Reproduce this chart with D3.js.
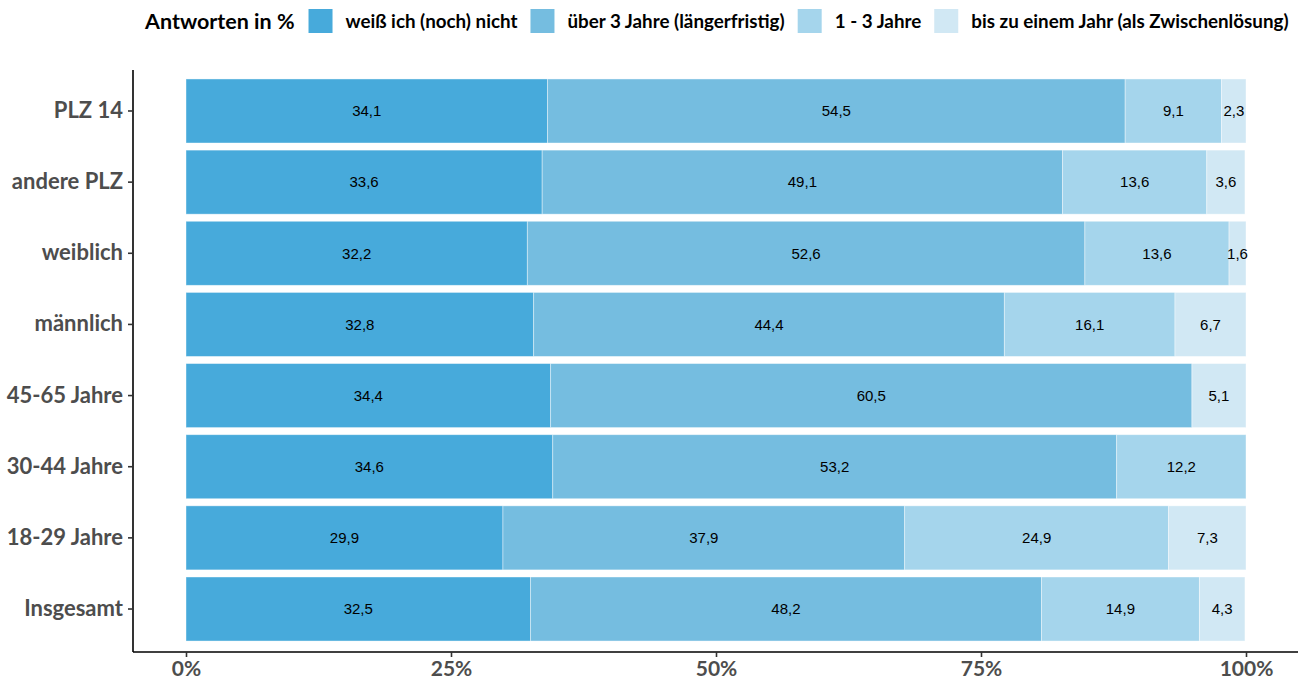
<!DOCTYPE html>
<html>
<head>
<meta charset="utf-8">
<script src="https://cdn.jsdelivr.net/npm/d3@7"></script>
<style>
  body { margin: 0; background: #fff; }
  svg { display: block; }
</style>
</head>
<body>
<div id="chart"></div>
<script>
// categories top to bottom
var groups = ["PLZ 14", "andere PLZ", "weiblich", "männlich", "45-65 Jahre", "30-44 Jahre", "18-29 Jahre", "Insgesamt"];
// answer series, in stacking order (left to right)
var answers = ["weiß ich (noch) nicht", "über 3 Jahre (längerfristig)", "1 - 3 Jahre", "bis zu einem Jahr (als Zwischenlösung)"];
var weissNicht = [34.1, 33.6, 32.2, 32.8, 34.4, 34.6, 29.9, 32.5];
var ueber3 = [54.5, 49.1, 52.6, 44.4, 60.5, 53.2, 37.9, 48.2];
var einsBisDrei = [9.1, 13.6, 13.6, 16.1, 0, 12.2, 24.9, 14.9];
var bisEinJahr = [2.3, 3.6, 1.6, 6.7, 5.1, 0, 7.3, 4.3];
var xTicks = [0, 25, 50, 75, 100];
var colors = ["#47aadb", "#75bde0", "#a5d5ec", "#d1e8f4"];

var series = [weissNicht, ueber3, einsBisDrei, bisEinJahr];

var W = 1301, H = 682;
var svg = d3.select("#chart").append("svg")
    .attr("width", W)
    .attr("height", H);

// scales
var x = d3.scaleLinear().domain([0, 100]).range([186, 1246]);
var y = d3.scaleBand().domain(groups)
    .range([68.3, 651.7])
    .paddingInner(0.1)
    .paddingOuter(0.15);

// build stacked rows
var rows = groups.map(function (g, i) {
    var row = {group: g};
    answers.forEach(function (a, j) { row[a] = series[j][i]; });
    return row;
});
var stacked = d3.stack().keys(answers)(rows);

var layers = svg.append("g").selectAll("g")
    .data(stacked)
    .enter().append("g")
    .attr("fill", function (d, i) { return colors[i]; });

layers.selectAll("rect")
    .data(function (d) { return d; })
    .enter().append("rect")
    .attr("x", function (d) { return x(d[0]); })
    .attr("width", function (d) { return x(d[1]) - x(d[0]); })
    .attr("y", function (d) { return y(d.data.group); })
    .attr("height", y.bandwidth())
    .attr("stroke", "#ffffff")
    .attr("stroke-opacity", 0.5)
    .attr("stroke-width", 0.8);

// value labels
layers.selectAll("text")
    .data(function (d) { return d.filter(function (s) { return s[1] - s[0] > 0; }); })
    .enter().append("text")
    .attr("x", function (d) { return x((d[0] + d[1]) / 2); })
    .attr("y", function (d) { return y(d.data.group) + y.bandwidth() / 2; })
    .attr("dy", "0.35em")
    .attr("text-anchor", "middle")
    .attr("fill", "#000")
    .style("font-family", "'Liberation Sans', Arial, sans-serif")
    .style("font-size", "15px")
    .text(function (d) { return (d[1] - d[0]).toFixed(1).replace(".", ","); });

// x axis
var xAxis = svg.append("g")
    .attr("transform", "translate(0,652)")
    .call(d3.axisBottom(x).tickValues(xTicks).tickSize(5).tickPadding(4)
        .tickFormat(function (d) { return d + "%"; }));
xAxis.select(".domain").attr("d", "M133,0H1298").attr("stroke", "#000").attr("stroke-width", 1.6);
xAxis.selectAll(".tick line").attr("stroke", "#333").attr("stroke-width", 1.6);
xAxis.selectAll(".tick text")
    .attr("fill", "#4d4d4d")
    .style("font-family", "Lato, sans-serif")
    .style("font-weight", "bold")
    .style("font-size", "21px");

// y axis
var yAxis = svg.append("g")
    .attr("transform", "translate(133,0)")
    .call(d3.axisLeft(y).tickSize(5).tickPadding(5));
yAxis.select(".domain").attr("d", "M0,70V652").attr("stroke", "#000").attr("stroke-width", 1.6);
yAxis.selectAll(".tick line").attr("stroke", "#333").attr("stroke-width", 1.6);
yAxis.selectAll(".tick text")
    .attr("fill", "#4d4d4d")
    .style("font-family", "Lato, sans-serif")
    .style("font-weight", "bold")
    .style("font-size", "22px");

// legend
var legend = svg.append("g");
var title = legend.append("text")
    .attr("x", 145).attr("y", 29)
    .attr("fill", "#000")
    .style("font-family", "Lato, sans-serif")
    .style("font-weight", "bold")
    .style("font-size", "21.5px")
    .text("Antworten in %");
var lx = 145 + title.node().getComputedTextLength() + 14;
answers.forEach(function (a, i) {
    legend.append("rect")
        .attr("x", lx).attr("y", 9)
        .attr("width", 24).attr("height", 24)
        .attr("fill", colors[i]);
    var t = legend.append("text")
        .attr("x", lx + 37).attr("y", 28)
        .attr("fill", "#000")
        .style("font-family", "Lato, sans-serif")
        .style("font-weight", "bold")
        .style("font-size", "18.8px")
        .text(a);
    lx = lx + 37 + t.node().getComputedTextLength() + 13;
});
</script>
</body>
</html>
